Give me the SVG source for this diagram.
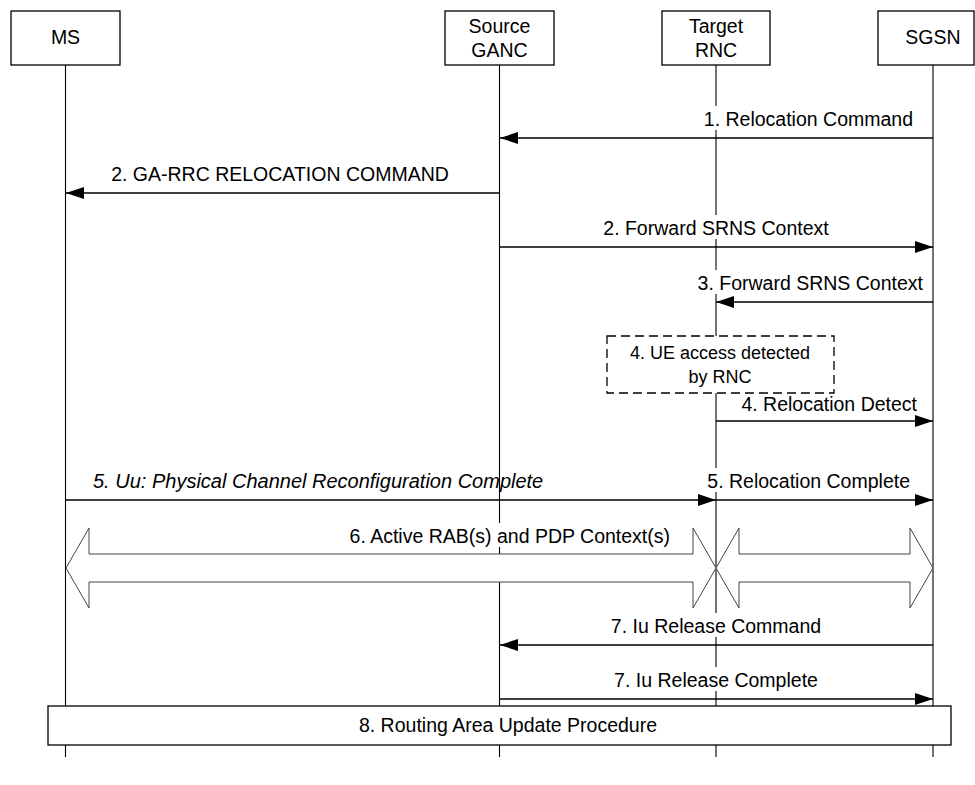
<svg xmlns="http://www.w3.org/2000/svg" width="975" height="785" viewBox="0 0 975 785">
<style>
text{font-family:"Liberation Sans",Arial,sans-serif;font-size:19.5px;fill:#000}
.box{fill:#fff;stroke:#000;stroke-width:1.3}
.life{stroke:#000;stroke-width:1.1;fill:none}
.msg{stroke:#000;stroke-width:1.5;fill:none;marker-end:url(#ah)}
.bg{fill:#fff}
.blk{fill:#fff;stroke:#444;stroke-width:1}
.mid{text-anchor:middle}
.end{text-anchor:end}
</style>
<defs>
<marker id="ah" markerUnits="userSpaceOnUse" markerWidth="18" markerHeight="12" refX="18" refY="6" orient="auto">
<path d="M0,0 L18,6 L0,12 z" fill="#000"/>
</marker>
</defs>
<rect width="975" height="785" fill="#fff"/>
<g id="lifelines">
<line class="life" x1="65.5" y1="65" x2="65.5" y2="757"/>
<line class="life" x1="499.5" y1="65" x2="499.5" y2="757"/>
<line class="life" x1="716" y1="65" x2="716" y2="757"/>
<line class="life" x1="933" y1="65" x2="933" y2="757"/>
</g>
<g id="node-ms"><rect class="box" x="11" y="11" width="109" height="54"/><text class="mid" x="65.5" y="44">MS</text></g>
<g id="node-ganc"><rect class="box" x="445" y="11" width="109" height="54"/><text class="mid" x="499.5" y="33">Source</text><text class="mid" x="499.5" y="57">GANC</text></g>
<g id="node-rnc"><rect class="box" x="662" y="11" width="108" height="54"/><text class="mid" x="716" y="33">Target</text><text class="mid" x="716" y="57">RNC</text></g>
<g id="node-sgsn"><rect class="box" x="878" y="11" width="96" height="54"/><text class="mid" x="933" y="44">SGSN</text></g>
<g id="connectors">
<rect class="bg" x="697" y="106" width="218" height="24"/>
<text class="end" x="913" y="126">1. Relocation Command</text>
<line class="msg" x1="933" y1="138" x2="500" y2="138"/>
<text class="mid" x="280" y="181">2. GA-RRC RELOCATION COMMAND</text>
<line class="msg" x1="499.5" y1="193" x2="66" y2="193"/>
<rect class="bg" x="598" y="215" width="236" height="24"/>
<text class="mid" x="716" y="235">2. Forward SRNS Context</text>
<line class="msg" x1="499.5" y1="247" x2="933" y2="247"/>
<rect class="bg" x="690" y="270" width="235" height="24"/>
<text class="end" x="923" y="290">3. Forward SRNS Context</text>
<line class="msg" x1="933" y1="302" x2="716" y2="302"/>
<g id="note-4">
<rect x="607" y="336" width="227" height="57" fill="#fff" stroke="#000" stroke-width="1.3" stroke-dasharray="9,5"/>
<text class="mid" x="720" y="359" style="font-size:18px">4. UE access detected</text>
<text class="mid" x="720" y="383" style="font-size:18px">by RNC</text>
</g>
<text class="end" x="917" y="411">4. Relocation Detect</text>
<line class="msg" x1="716" y1="421" x2="933" y2="421"/>
<text x="93" y="488" style="font-style:italic;font-size:20px">5. Uu: Physical Channel Reconfiguration Complete</text>
<line class="msg" x1="65.5" y1="500" x2="716" y2="500"/>
<rect class="bg" x="702" y="468" width="210" height="24"/>
<text class="end" x="910" y="488">5. Relocation Complete</text>
<line class="msg" x1="716" y1="500" x2="933" y2="500"/>
<polygon class="blk" points="66,568 89,528 89,554 693,554 693,528 716,568 693,608 693,582 89,582 89,608"/>
<polygon class="blk" points="716,568 739,528 739,554 910,554 910,528 933,568 910,608 910,582 739,582 739,608"/>
<rect class="bg" x="330" y="523" width="340" height="24"/>
<text class="end" x="670" y="543">6. Active RAB(s) and PDP Context(s)</text>
<rect class="bg" x="605" y="613" width="222" height="24"/>
<text class="mid" x="716" y="633">7. Iu Release Command</text>
<line class="msg" x1="933" y1="645" x2="500" y2="645"/>
<rect class="bg" x="606" y="667" width="220" height="24"/>
<text class="mid" x="716" y="687">7. Iu Release Complete</text>
<line class="msg" x1="499.5" y1="699" x2="933" y2="699"/>
</g>
<g id="node-rau"><rect class="box" x="48" y="706" width="903" height="39"/><text class="mid" x="508" y="732">8. Routing Area Update Procedure</text></g>
</svg>
